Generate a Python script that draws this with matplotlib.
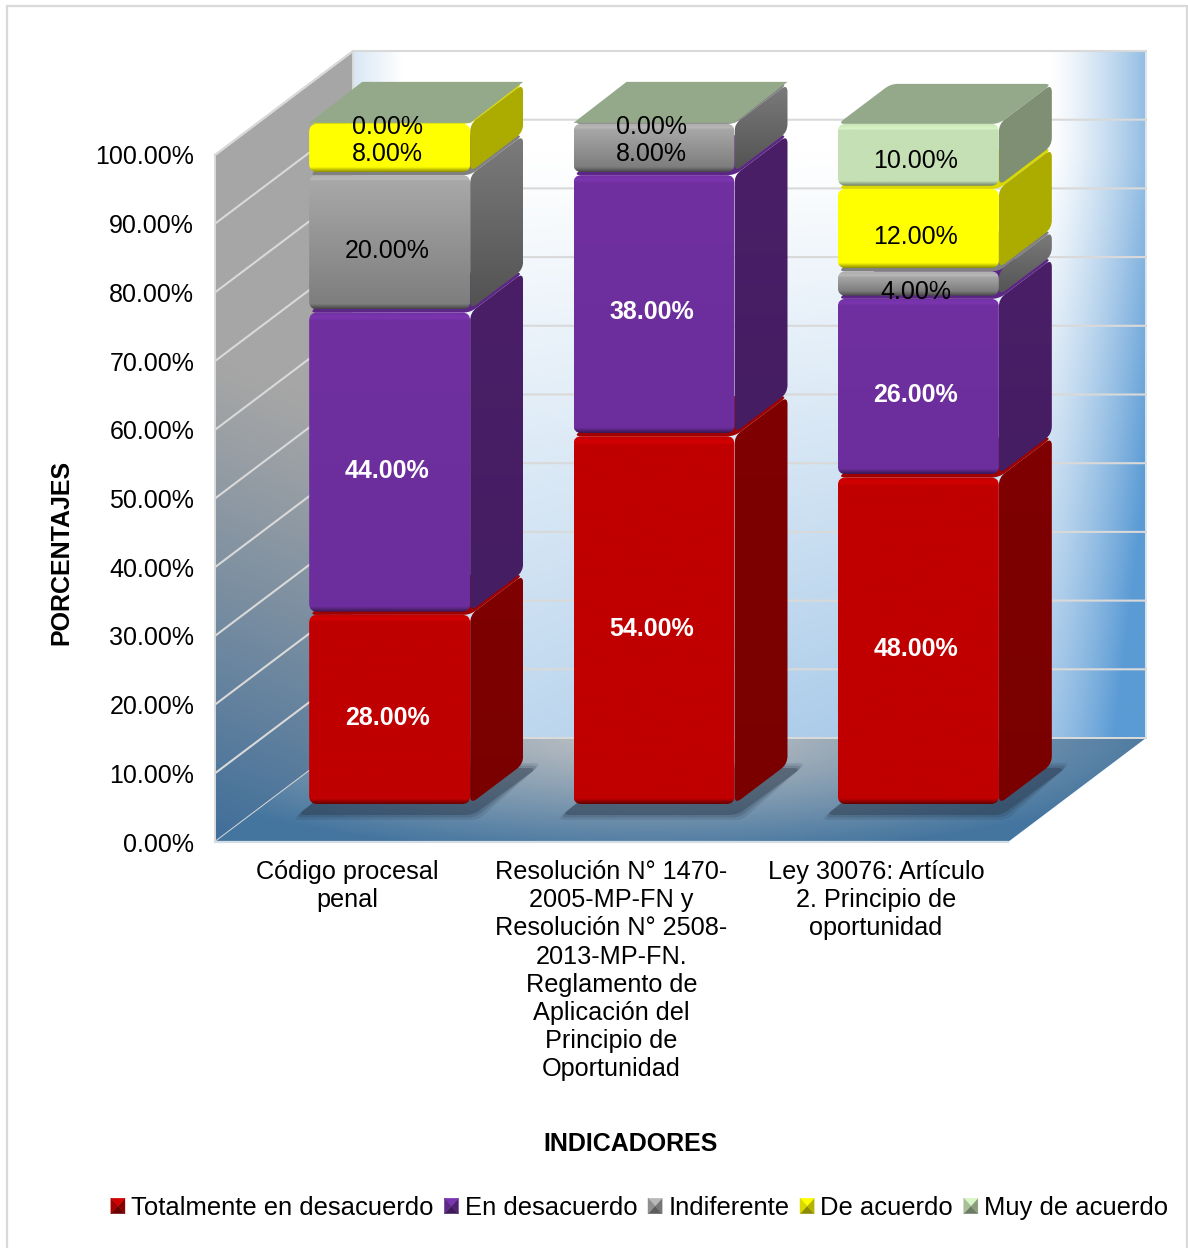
import numpy as np
from matplotlib import pyplot as plt
from matplotlib import colors as mcolors
from matplotlib.legend_handler import HandlerBase
from matplotlib.patches import PathPatch, Patch, Polygon, Rectangle
from matplotlib.path import Path

plt.rcParams['font.family'] = ['Liberation Sans', 'DejaVu Sans']

categories = [
    "Código procesal\npenal",
    "Resolución N° 1470-\n2005-MP-FN y\nResolución N° 2508-\n2013-MP-FN.\nReglamento de\nAplicación del\nPrincipio de\nOportunidad",
    "Ley 30076: Artículo\n2. Principio de\noportunidad",
]
series_names = ["Totalmente en desacuerdo", "En desacuerdo", "Indiferente", "De acuerdo", "Muy de acuerdo"]
totalmente = [28.0, 54.0, 48.0]
en_desacuerdo = [44.0, 38.0, 26.0]
indiferente = [20.0, 8.0, 4.0]
de_acuerdo = [8.0, 0.0, 12.0]
muy_de_acuerdo = [0.0, 0.0, 10.0]
y_ticks = [0, 10, 20, 30, 40, 50, 60, 70, 80, 90, 100]

# front, front bottom, side top, side bottom, top
red = ["#C00000", "#C00000", "#7F0000", "#7A0000", "#A00000"]
purple = ["#7030A0", "#6C2E9C", "#4A1F68", "#451D62", "#5C2687"]
grey = ["#A8A8A8", "#7E7E7E", "#7C7C7C", "#525252", "#808080"]
yellow = ["#FFFF00", "#FFFF00", "#ABAB00", "#ABAB00", "#D9D900"]
green = ["#C5E0B4", "#C5E0B4", "#7F8F73", "#7F8F73", "#94A98A"]

W, H = 1188, 1248
AX_L, AX_R, AX_T, AX_B = 215, 1008, 155, 842
PX = (AX_R - AX_L) / 3.0   # pixels per category
PY = (AX_B - AX_T) / 100.0  # pixels per percent

WALL_DX, WALL_DY = 138 / PX, 104 / PY
BAR_SHIFT = 42.5 / PX
BAR_HALF = 80.5 / PX
BAR_LIFT = 38 / PY
BAR_DX, BAR_DY = 53 / PX, 40 / PY
BAR_CEIL = 99.0  # top of the stack gets squeezed a bit in the original
GAP = 3.2 / PY

fig = plt.figure(figsize=(W / 100, H / 100), dpi=100, facecolor="white")
fig.add_artist(Rectangle((7 / W, -0.01), 1180 / W, 1.01 - 6 / H, transform=fig.transFigure,
                         fill=False, ec="#D9D9D9", lw=1.6))
ax = fig.add_axes([AX_L / W, 1 - AX_B / H, (AX_R - AX_L) / W, (AX_B - AX_T) / H])
ax.patch.set_visible(False)
for s in ax.spines.values():
    s.set_visible(False)

zo = [1]


def next_z():
    zo[0] += 1
    return zo[0]


def rounded_path(pts, r):
    p = np.array(pts, dtype=float) * [PX, PY]
    n = len(p)
    verts, codes = [], []
    for i in range(n):
        v, a, b = p[i], p[i - 1], p[(i + 1) % n]
        la, lb = np.linalg.norm(a - v), np.linalg.norm(b - v)
        d = min(r, 0.45 * la, 0.45 * lb)
        s = v + (a - v) / la * d
        e = v + (b - v) / lb * d
        verts += [s, v, e]
        codes += [Path.MOVETO if i == 0 else Path.LINETO, Path.CURVE3, Path.CURVE3]
    verts.append(verts[0])
    codes.append(Path.CLOSEPOLY)
    return Path(np.array(verts) / [PX, PY], codes)


def draw_image(arr, extent, clip):
    patch = PathPatch(clip, transform=ax.transData, fc="none", ec="none")
    ax.add_patch(patch)
    im = ax.imshow(arr, extent=extent, aspect="auto", origin="upper",
                   interpolation="bilinear", zorder=next_z())
    im.set_clip_path(patch)
    # images get cut at the axes box otherwise
    im.set_clip_box(fig.bbox)
    return im


def lerp_rgb(c0, c1, f):
    c0 = np.array(mcolors.to_rgb(c0))
    c1 = np.array(mcolors.to_rgb(c1))
    return c0 + (c1 - c0) * f[..., None]


def vertical_stops(stops, n=200):
    pos = [s[0] for s in stops]
    cols = np.array([mcolors.to_rgb(s[1]) for s in stops])
    t = np.linspace(0, 1, n)
    return np.stack([np.interp(t, pos, cols[:, k]) for k in range(3)], axis=1)[:, None, :]


def shade(c, f):
    c = np.array(mcolors.to_rgb(c))
    return tuple(np.clip(c * f, 0, 1))


class PyramidHandler(HandlerBase):
    def create_artists(self, legend, orig, xd, yd, w, h, fontsize, trans):
        c = orig.get_facecolor()
        x0, y0 = -xd, -yd
        cx, cy = x0 + w / 2, y0 + h / 2
        corners = [(x0, y0), (x0 + w, y0), (x0 + w, y0 + h), (x0, y0 + h)]
        factors = [0.55, 0.7, 1.1, 0.85]  # bottom, right, top, left
        out = []
        for k in range(4):
            col = shade(c[:3], factors[k])
            out.append(Polygon([corners[k], corners[(k + 1) % 4], (cx, cy)], closed=True,
                               fc=col, ec=col, lw=0.3, transform=trans))
        return out


def back_wall():
    x0, x1 = -0.5 + WALL_DX, 2.5 + WALL_DX
    y0, y1 = WALL_DY, 100 + WALL_DY
    u, w = np.meshgrid(np.linspace(0, 1, 300), np.linspace(0, 1, 300))
    f = np.clip((w - 0.15) / 0.85, 0, 1) * 0.62
    f = f + np.clip((u - 0.88) / 0.12, 0, 1) ** 1.3 * 0.55 + np.clip((0.06 - u) / 0.06, 0, 1) * 0.42
    f = np.clip(f * (0.55 + 0.45 * u) + np.clip((u - 0.88) / 0.12, 0, 1) * 0.1, 0, 1)
    rect = Path([(x0, y0), (x1, y0), (x1, y1), (x0, y1), (x0, y0)])
    draw_image(lerp_rgb("#FFFFFF", "#5B9BD5", f), (x0, x1, y0, y1), rect)
    ax.add_patch(PathPatch(rect, fc="none", ec="#DCE6EE", lw=1.4, clip_on=False, zorder=next_z()))


def left_wall():
    x0, x1 = -0.5, -0.5 + WALL_DX
    y0, y1 = 0, 100 + WALL_DY
    u, w = np.meshgrid(np.linspace(0, 1, 200), np.linspace(0, 1, 300))
    py = AX_B - (1 - w) * (y1 - y0) * PY
    px = AX_L + u * WALL_DX * PX
    f = np.clip((py - 0.4 * (px - AX_L) - 360) / 482, 0, 1) ** 1.15
    poly = Path([(x0, 0), (x1, WALL_DY), (x1, 100 + WALL_DY), (x0, 100), (x0, 0)])
    draw_image(lerp_rgb("#A6A6A6", "#3F6E9A", f), (x0, x1, y0, y1), poly)
    ax.add_patch(PathPatch(poly, fc="none", ec="#DADADA", lw=1.4, clip_on=False, zorder=next_z()))


def floor():
    x0, x1 = -0.5, 2.5 + WALL_DX
    u, w = np.meshgrid(np.linspace(0, 1, 400), np.linspace(0, 1, 120))
    px = AX_L + u * (x1 - x0) * PX
    py = AX_B - WALL_DY * PY + w * WALL_DY * PY
    d = np.sqrt(((px - 650) / 540) ** 2 + ((py - 732) / 125) ** 2)
    f = np.clip(d, 0, 1) ** 1.1
    poly = Path([(x0, 0), (2.5, 0), (x1, WALL_DY), (x0 + WALL_DX, WALL_DY), (x0, 0)])
    draw_image(lerp_rgb("#C4C4C4", "#44759F", f), (x0, x1, 0, WALL_DY), poly)
    ax.plot([x0, 2.5], [0, 0], color="#D5DDE4", lw=1.6, clip_on=False, zorder=next_z())
    ax.plot([x0 + WALL_DX, x1], [WALL_DY, WALL_DY], color="#DADADA", lw=1.4, clip_on=False, zorder=next_z())


def grid_lines():
    z = next_z()
    for t in y_ticks[1:]:
        ax.plot([-0.5, -0.5 + WALL_DX, 2.5 + WALL_DX], [t, t + WALL_DY, t + WALL_DY],
                color="#D9D9D9", lw=1.5, clip_on=False, zorder=z)


def bar_shadow(i):
    x0 = i + BAR_SHIFT - BAR_HALF
    x1 = i + BAR_SHIFT + BAR_HALF
    for grow, alpha in [(5, 0.12), (2.5, 0.18), (0, 0.30)]:
        g = grow / PY
        gx = grow / PX
        pts = [(x0 - 12 / PX - gx, BAR_LIFT - 11 / PY - g), (x1 + 3 / PX + gx, BAR_LIFT - 11 / PY - g),
               (x1 + 67 / PX + gx, BAR_LIFT + 36 / PY + g), (x0 + 50 / PX, BAR_LIFT + 36 / PY + g)]
        ax.add_patch(PathPatch(rounded_path(pts, 8), fc="#1E2A3C", ec="none", alpha=alpha,
                               clip_on=False, zorder=next_z()))


def segment(i, low, high, pal):
    x0 = i + BAR_SHIFT - BAR_HALF
    x1 = i + BAR_SHIFT + BAR_HALF
    b = low + BAR_LIFT
    t = min(high - GAP, BAR_CEIL) + BAR_LIFT
    # top face
    top = [(x0, t), (x1, t), (x1 + BAR_DX, t + BAR_DY), (x0 + BAR_DX, t + BAR_DY)]
    ax.add_patch(PathPatch(rounded_path(top, 7), fc=pal[4], ec="none", clip_on=False, zorder=next_z()))
    # side face
    side = rounded_path([(x1, b), (x1 + BAR_DX, b + BAR_DY), (x1 + BAR_DX, t + BAR_DY), (x1, t)], 8)
    draw_image(vertical_stops([(0, pal[2]), (1, pal[3])]), (x1, x1 + BAR_DX, b, t + BAR_DY), side)
    # front face, light bevel on top and dark one at the bottom
    hp = (t - b) * PY
    a = min(5.0 / hp, 0.3)
    c = min(5.0 / hp, 0.3)
    stops = [(0, shade(pal[0], 1.02)), (a, shade(pal[0], 1.1)), (a + 0.01, pal[0]),
             (1 - c, pal[1]), (1, shade(pal[1], 0.55))]
    front = rounded_path([(x0, b), (x1, b), (x1, t), (x0, t)], 8)
    draw_image(vertical_stops(stops, 300), (x0, x1, b, t), front)


def flat_plate(i, pal):
    x0 = i + BAR_SHIFT - BAR_HALF
    x1 = i + BAR_SHIFT + BAR_HALF
    t = BAR_CEIL + BAR_LIFT + 1 / PY
    pts = np.array([(x0, t), (x1, t), (x1 + BAR_DX, t + 41 / PY), (x0 + BAR_DX, t + 41 / PY)])
    ax.fill(pts[:, 0], pts[:, 1], color=pal[4], lw=0, clip_on=False, zorder=next_z())


back_wall()
left_wall()
floor()
grid_lines()

stack = [totalmente, en_desacuerdo, indiferente, de_acuerdo, muy_de_acuerdo]
palettes = [red, purple, grey, yellow, green]

for i in range(len(categories)):
    bar_shadow(i)
labels = []
for i in range(len(categories)):
    cum = 0.0
    for k, vals in enumerate(stack):
        v = vals[i]
        if v > 0:
            segment(i, cum, cum + v, palettes[k])
            labels.append((i, cum + v / 2, v, k))
        cum += v
    # the empty category on top: one label, flat plate
    if stack[4][i] == 0:
        flat_plate(i, green)
        labels.append((i, cum, 0.0, 4))

for i, mid, v, k in labels:
    white = k < 2
    ax.text(i + BAR_SHIFT - 2.5 / PX, mid + BAR_LIFT - 10 / PY, f"{v:.2f}%",
            ha="center", va="center", fontsize=18,
            color="white" if white else "black", fontweight="bold" if white else "normal",
            clip_on=False, zorder=500)

ax.set_xlim(-0.5, 2.5)
ax.set_ylim(0, 100)
ax.set_xticks(range(3))
ax.set_xticklabels(categories, fontsize=18.2, linespacing=1.22)
ax.set_yticks(y_ticks)
ax.set_yticklabels([f"{t:.2f}%" for t in y_ticks], fontsize=18)
ax.tick_params(axis="both", length=0)
ax.tick_params(axis="x", pad=13)
ax.tick_params(axis="y", pad=15)

ax.set_xlabel("INDICADORES", fontsize=18, fontweight="bold")
ax.xaxis.set_label_coords((631 - AX_L) / (AX_R - AX_L), (AX_B - 1144) / (AX_B - AX_T))
ax.xaxis.label.set_va("center")
ax.set_ylabel("PORCENTAJES", fontsize=18, fontweight="bold")
ax.yaxis.set_label_coords((61 - AX_L) / (AX_R - AX_L), (AX_B - 552) / (AX_B - AX_T))
ax.yaxis.label.set_va("center")

handles = [Patch(fc=p[0], label=n) for p, n in zip(palettes, series_names)]
fig.legend(handles=handles, ncol=5, frameon=False, loc="center",
           bbox_to_anchor=(639.5 / W, 1 - 1208 / H), fontsize=18.45,
           handlelength=0.55, handleheight=0.55, handletextpad=0.24, columnspacing=0.42,
           borderpad=0, borderaxespad=0, handler_map={Patch: PyramidHandler()})

fig.savefig("out.png", dpi=100)
